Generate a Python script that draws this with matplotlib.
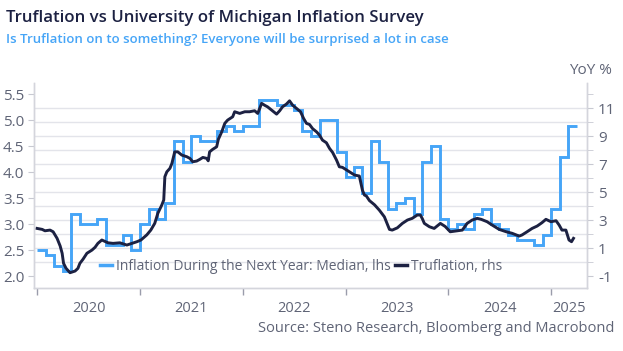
import numpy as np
import pandas as pd
import matplotlib
matplotlib.use("Agg")
import matplotlib.pyplot as plt
import matplotlib.dates as mdates
from matplotlib.ticker import FixedLocator, FuncFormatter

plt.rcParams['font.family'] = ['Open Sans', 'DejaVu Sans']
plt.rcParams['axes.unicode_minus'] = False

# UMich 1-year inflation expectations, monthly median (lhs)
umich_start = '2020-01-01'
umich = [2.5, 2.4, 2.2, 2.1, 3.2, 3.0, 3.0, 3.1, 2.6, 2.6, 2.8, 2.5,
         3.0, 3.3, 3.1, 3.4, 4.6, 4.2, 4.7, 4.6, 4.6, 4.8, 4.9, 4.8,
         4.9, 4.9, 5.4, 5.4, 5.3, 5.3, 5.2, 4.8, 4.7, 5.0, 5.0, 4.4,
         3.9, 4.1, 3.6, 4.6, 4.2, 3.3, 3.4, 3.5, 3.2, 4.2, 4.5, 3.1,
         2.9, 3.0, 2.9, 3.2, 3.3, 3.0, 2.9, 2.8, 2.7, 2.7, 2.6, 2.8,
         3.3, 4.3, 4.9]

# Truflation YoY % (rhs)
tru_dates = ['2020-01-01', '2020-01-19', '2020-01-29', '2020-02-16', '2020-02-27',
             '2020-03-12', '2020-03-23', '2020-03-30', '2020-04-04', '2020-04-13',
             '2020-04-27', '2020-05-15', '2020-05-25', '2020-06-01', '2020-06-12',
             '2020-06-26', '2020-07-14', '2020-07-25', '2020-08-04', '2020-08-18',
             '2020-08-26', '2020-09-09', '2020-09-27', '2020-10-21', '2020-11-15',
             '2020-12-03', '2020-12-21', '2021-01-04', '2021-01-25', '2021-02-08',
             '2021-02-22', '2021-03-05', '2021-03-19', '2021-03-26', '2021-03-30',
             '2021-04-06', '2021-04-17', '2021-04-24', '2021-05-04', '2021-05-15',
             '2021-05-29', '2021-06-16', '2021-06-27', '2021-07-07', '2021-07-21',
             '2021-08-01', '2021-08-12', '2021-08-26', '2021-08-31', '2021-09-05',
             '2021-09-16', '2021-09-30', '2021-10-06', '2021-10-18', '2021-10-29',
             '2021-11-08', '2021-11-26', '2021-12-03', '2021-12-21', '2022-01-08',
             '2022-01-25', '2022-02-12', '2022-02-23', '2022-03-09', '2022-03-19',
             '2022-03-30', '2022-04-13', '2022-05-01', '2022-05-12', '2022-05-22',
             '2022-06-05', '2022-06-16', '2022-06-27', '2022-07-11', '2022-07-25',
             '2022-08-05', '2022-08-15', '2022-08-26', '2022-09-06', '2022-09-20',
             '2022-09-30', '2022-10-11', '2022-10-25', '2022-11-05', '2022-11-16',
             '2022-11-30', '2022-12-10', '2022-12-21', '2023-01-04', '2023-01-15',
             '2023-02-02', '2023-02-19', '2023-03-02', '2023-03-09', '2023-03-16',
             '2023-03-27', '2023-04-14', '2023-05-01', '2023-05-19', '2023-06-06',
             '2023-06-16', '2023-07-04', '2023-07-22', '2023-08-09', '2023-08-26',
             '2023-09-13', '2023-09-24', '2023-10-01', '2023-10-08', '2023-10-26',
             '2023-11-12', '2023-12-04', '2023-12-21', '2024-01-08', '2024-02-02',
             '2024-02-20', '2024-03-08', '2024-03-26', '2024-04-13', '2024-04-27',
             '2024-05-18', '2024-06-05', '2024-06-30', '2024-07-25', '2024-08-15',
             '2024-09-09', '2024-09-19', '2024-10-07', '2024-10-25', '2024-11-12',
             '2024-11-29', '2024-12-13', '2024-12-31', '2025-01-18', '2025-01-29',
             '2025-02-08', '2025-02-22', '2025-03-05', '2025-03-14', '2025-03-21']
tru_vals = [2.41, 2.34, 2.24, 2.29, 2.17, 1.70, 1.15, 0.63, -0.09, -0.45,
            -0.76, -0.64, -0.45, -0.09, 0.20, 0.63, 0.86, 1.06, 1.34, 1.58,
            1.51, 1.38, 1.34, 1.38, 1.22, 1.34, 1.46, 1.58, 1.95, 2.29,
            2.77, 3.49, 4.08, 4.44, 6.11, 6.46, 6.71, 7.06, 7.89, 7.89,
            7.66, 7.54, 7.42, 7.18, 7.23, 7.35, 7.49, 7.42, 7.25, 7.89,
            8.07, 8.25, 8.78, 9.32, 9.93, 10.16, 10.40, 10.76, 10.64, 10.76,
            10.76, 10.83, 10.64, 11.36, 11.23, 11.11, 10.88, 10.59, 10.83, 11.11,
            11.31, 11.54, 11.23, 11.00, 10.76, 10.28, 9.93, 9.85, 9.55, 9.32,
            9.10, 8.73, 8.54, 8.14, 7.85, 7.30, 6.82, 6.78, 6.60, 6.46,
            6.23, 6.16, 5.15, 4.80, 4.73, 4.40, 4.10, 3.72, 3.24, 2.34,
            2.29, 2.45, 2.77, 3.01, 3.13, 3.37, 3.37, 3.10, 2.77, 2.53,
            2.41, 2.77, 2.55, 2.17, 2.24, 2.29, 2.77, 3.01, 3.13, 3.06,
            2.89, 2.65, 2.34, 2.17, 2.06, 1.86, 1.94, 2.17, 2.41, 2.58,
            2.82, 3.06, 2.89, 2.96, 2.65, 2.29, 2.29, 1.58, 1.46, 1.70]

years = ['2020', '2021', '2022', '2023', '2024', '2025']

BLUE = '#46a5f7'
NAVY = '#1c2142'
GRAY = '#5f6476'
GRID = '#e3e4ea'

fig = plt.figure(figsize=(6.23, 3.51), dpi=100)
ax = fig.add_axes([34 / 623, 1 - 288 / 351, 553 / 623, 205 / 351])
ax2 = ax.twinx()

# left / right scales
lmin, lmax = 1.77, 5.72
def l2r(v):
    return -1 + (v - 2.0) * 13 / 3.5
ax.set_ylim(lmin, lmax)
ax2.set_ylim(l2r(lmin), l2r(lmax))

# grid follows the rhs integer ticks, drawn on the lhs axis so it stays below
rgrid = np.arange(-1, 13)
ax.yaxis.set_minor_locator(FixedLocator(2.0 + (rgrid + 1) * 3.5 / 13))
ax.grid(which='minor', axis='y', color=GRID, lw=1)
ax.set_axisbelow(True)

edges = mdates.date2num(pd.date_range(umich_start, periods=len(umich) + 1, freq='MS'))
ax.stairs(umich, edges, baseline=None, color=BLUE, lw=2.1,
          label='Inflation During the Next Year: Median, lhs')
ax2.plot(pd.to_datetime(tru_dates), tru_vals, color=NAVY, lw=2.1,
         label='Truflation, rhs')

xmin = mdates.date2num(pd.Timestamp('2019-12-21'))
xmax = mdates.date2num(pd.Timestamp('2025-05-08'))
ax.set_xlim(xmin, xmax)

# x ticks at year boundaries, labels in the middle of each year
bounds = [mdates.date2num(pd.Timestamp(y + '-01-01')) for y in years]
mids = [mdates.date2num(pd.Timestamp(y + '-07-02')) for y in years[:-1]]
mids.append((bounds[-1] + xmax) / 2)
ax.set_xticks(bounds)
ax.set_xticklabels([])
ax.set_xticks(mids, minor=True)
ax.set_xticklabels(years, minor=True)
ax.tick_params(axis='x', which='major', length=5, color='#9a9cab', width=1)
ax.tick_params(axis='x', which='minor', length=0, pad=9, labelsize=10.5, labelcolor=GRAY)

ax.set_yticks(np.arange(2.0, 5.51, 0.5))
ax.yaxis.set_major_formatter(FuncFormatter(lambda v, p: f'{v:.1f}'))
ax.tick_params(axis='y', which='major', length=4, color='#c8c9d2', labelsize=11, labelcolor=GRAY, pad=3)
ax.tick_params(axis='y', which='minor', length=0)

ax2.set_yticks(np.arange(-1, 12, 2))
ax2.yaxis.set_major_formatter(FuncFormatter(lambda v, p: f'{v:.0f}'))
ax2.set_yticks(np.arange(0, 13, 2), minor=True)
ax2.tick_params(axis='y', which='both', length=4, color='#c8c9d2', labelsize=11, labelcolor=GRAY, pad=4)

for a in (ax, ax2):
    a.spines['top'].set_visible(False)
    for s in ('left', 'right', 'bottom'):
        a.spines[s].set_color('#d4d5dc')
        a.spines[s].set_linewidth(1)

h1, l1 = ax.get_legend_handles_labels()
h2, l2 = ax2.get_legend_handles_labels()
leg = ax2.legend(h1 + h2, l1 + l2, ncol=2, frameon=False, loc='center',
                 bbox_to_anchor=(301 / 623, 1 - 266 / 351), bbox_transform=fig.transFigure,
                 fontsize=10, handlelength=0.9, handletextpad=0.25, columnspacing=0.3,
                 borderpad=0, labelcolor=GRAY)
for line in leg.get_lines():
    line.set_linewidth(2.5)

fig.text(6 / 623, 1 - 18 / 351, 'Truflation vs University of Michigan Inflation Survey',
         fontsize=12.1, fontweight='semibold', color=NAVY, va='center', ha='left')
fig.text(6 / 623, 1 - 40 / 351, 'Is Truflation on to something? Everyone will be surprised a lot in case',
         fontsize=9.5, fontweight='semibold', color=BLUE, va='center', ha='left')
fig.text(612 / 623, 1 - 71 / 351, 'YoY %', fontsize=11, color=GRAY, va='center', ha='right')
fig.text(614 / 623, 1 - 328 / 351, 'Source: Steno Research, Bloomberg and Macrobond',
         fontsize=10.5, color=GRAY, va='center', ha='right')

fig.savefig('out.png', dpi=100)
